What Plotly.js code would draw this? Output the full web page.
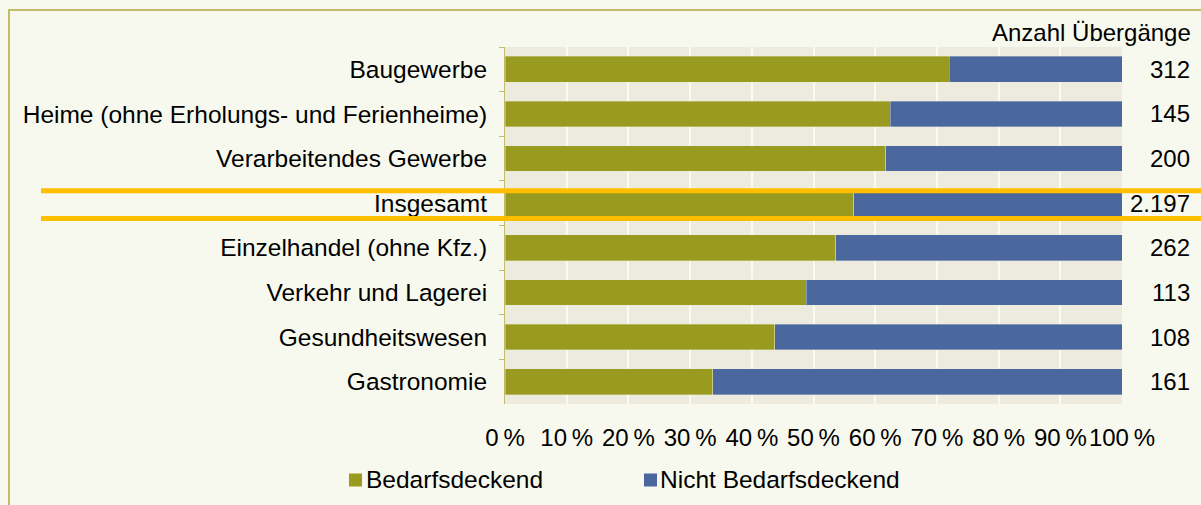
<!DOCTYPE html>
<html>
<head>
<meta charset="utf-8">
<script src="https://cdn.plot.ly/plotly-3.0.1.min.js"></script>
<style>
html,body{margin:0;padding:0;background:#F8F9EE;}
#chart{width:1201px;height:505px;}
</style>
</head>
<body>
<div id="chart"></div>
<script>
const categories = [
  "Baugewerbe",
  "Heime (ohne Erholungs- und Ferienheime)",
  "Verarbeitendes Gewerbe",
  "Insgesamt",
  "Einzelhandel (ohne Kfz.)",
  "Verkehr und Lagerei",
  "Gesundheitswesen",
  "Gastronomie"
];
const seriesNames = ["Bedarfsdeckend", "Nicht Bedarfsdeckend"];
const bedarfsdeckend      = [72.0, 62.4, 61.7, 56.5, 53.6, 48.8, 43.7, 33.7];
const nichtBedarfsdeckend = [28.0, 37.6, 38.3, 43.5, 46.4, 51.2, 56.3, 66.3];
const anzahlUebergaenge   = [312, 145, 200, 2197, 262, 113, 108, 161];
const countHeader = "Anzahl Übergänge";
const xTickValues = [0, 10, 20, 30, 40, 50, 60, 70, 80, 90, 100];
const xTickLabels = ["0\u2009%", "10\u2009%", "20\u2009%", "30\u2009%", "40\u2009%", "50\u2009%",
                     "60\u2009%", "70\u2009%", "80\u2009%", "90\u2009%", "100\u2009%"];
const highlightCategory = "Insgesamt";

function fmtDE(n) { return String(n).replace(/\B(?=(\d{3})+(?!\d))/g, "."); }

const W = 1201, H = 505;
const M = {l: 505, r: 79, t: 47, b: 101};
const PW = W - M.l - M.r, PH = H - M.t - M.b;
const px2x = p => (p - M.l) / PW;
const py2y = p => (H - M.b - p) / PH;

const COLORS = ["#989B1F", "#4A689D"];
const ORANGE = "#FFBE00", KHAKI = "#C2BB6C";
const FONT = "Liberation Sans, Arial, sans-serif";

const traces = [
  {type: "bar", orientation: "h", name: seriesNames[0], y: categories, x: bedarfsdeckend,
   marker: {color: COLORS[0], line: {color: "rgba(235,235,220,0.45)", width: 0.8}}, hoverinfo: "skip"},
  {type: "bar", orientation: "h", name: seriesNames[1], y: categories, x: nichtBedarfsdeckend,
   marker: {color: COLORS[1], line: {color: "rgba(235,235,220,0.45)", width: 0.8}}, hoverinfo: "skip"}
];

const annotations = categories.map((c, i) => ({
  xref: "paper", yref: "y", x: px2x(1192), y: c, xanchor: "right", yanchor: "middle",
  text: fmtDE(anzahlUebergaenge[i]), showarrow: false,
  font: {family: FONT, size: 24, color: "#000"}
}));
annotations.push({
  xref: "paper", yref: "paper", x: px2x(1193), y: py2y(33), xanchor: "right", yanchor: "middle",
  text: countHeader, showarrow: false, font: {family: FONT, size: 24, color: "#000"}
});

const hi = categories.indexOf(highlightCategory);
const shapes = [
  {type: "rect", xref: "paper", yref: "paper", x0: px2x(9), x1: px2x(1230), y0: py2y(540), y1: py2y(10),
   line: {color: KHAKI, width: 2}, fillcolor: "rgba(0,0,0,0)", layer: "below"},
  {type: "line", xref: "paper", yref: "y", x0: px2x(41), x1: px2x(1215), y0: hi - 0.28, y1: hi - 0.28,
   line: {color: ORANGE, width: 5}, layer: "above"},
  {type: "line", xref: "paper", yref: "y", x0: px2x(41), x1: px2x(1215), y0: hi + 0.345, y1: hi + 0.345,
   line: {color: ORANGE, width: 5}, layer: "above"}
];

// legend (drawn manually so that the plot area keeps its size)
const legendSquareX = [349, 644];
const legendTextX = [364, 658];
const legendY = 480;
seriesNames.forEach((name, i) => {
  shapes.push({type: "rect", xref: "paper", yref: "paper",
    x0: px2x(legendSquareX[i]), x1: px2x(legendSquareX[i] + 13),
    y0: py2y(legendY + 6.5), y1: py2y(legendY - 6.5),
    fillcolor: COLORS[i], line: {width: 0}});
  annotations.push({xref: "paper", yref: "paper", x: px2x(legendTextX[i]), y: py2y(legendY),
    xanchor: "left", yanchor: "middle", text: name, showarrow: false,
    font: {family: FONT, size: 24.5, color: "#000"}});
});

const layout = {
  width: W, height: H, margin: M,
  paper_bgcolor: "#F8F9EE", plot_bgcolor: "#EDEBDD",
  font: {family: FONT, size: 24, color: "#000"},
  barmode: "stack", bargap: 0.425, showlegend: false,
  xaxis: {range: [0, 100], tickvals: xTickValues, ticktext: xTickLabels, tickangle: 0,
    tickfont: {family: FONT, size: 24, color: "#000"},
    showgrid: true, gridcolor: "#F9FAF0", gridwidth: 2, zeroline: false, showline: false, ticks: "",
    ticklabelstandoff: 17, fixedrange: true},
  yaxis: {autorange: false, range: [categories.length - 0.5, -0.5], type: "category",
    tickfont: {family: FONT, size: 24.5, color: "#000"},
    showgrid: false, zeroline: false, showline: true, linecolor: KHAKI, linewidth: 1,
    ticks: "outside", tickson: "boundaries", ticklen: 5, tickcolor: KHAKI, tickwidth: 1,
    ticklabelstandoff: 12, fixedrange: true},
  annotations: annotations, shapes: shapes
};

Plotly.newPlot("chart", traces, layout, {displayModeBar: false, staticPlot: true});
</script>
</body>
</html>
